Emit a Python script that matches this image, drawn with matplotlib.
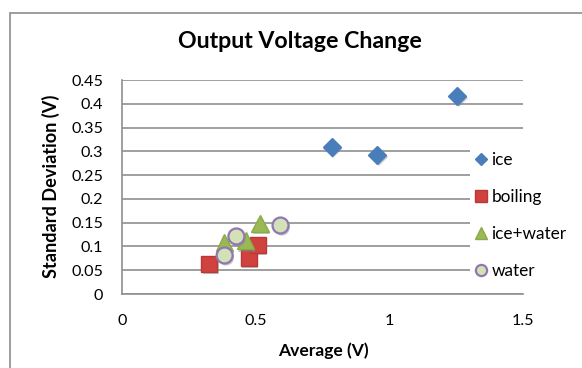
import matplotlib
matplotlib.use('Agg')
import matplotlib.pyplot as plt
import matplotlib.patheffects as pe
from matplotlib.patches import Rectangle

plt.rcParams['font.family'] = ['Lato', 'DejaVu Sans']

# average (V) and standard deviation (V) for each condition
ice_avg = [0.784, 0.955, 1.254]
ice_std = [0.310, 0.293, 0.416]
boiling_avg = [0.326, 0.475, 0.509]
boiling_std = [0.064, 0.075, 0.104]
icewater_avg = [0.383, 0.462, 0.516]
icewater_std = [0.108, 0.112, 0.148]
water_avg = [0.384, 0.428, 0.593]
water_std = [0.081, 0.121, 0.144]

xticks = [0, 0.5, 1, 1.5]
xtick_labels = ['0', '0.5', '1', '1.5']
yticks = [0, 0.05, 0.1, 0.15, 0.2, 0.25, 0.3, 0.35, 0.4, 0.45]
ytick_labels = ['0', '0.05', '0.1', '0.15', '0.2', '0.25', '0.3', '0.35', '0.4', '0.45']

W, H = 582, 368
fig = plt.figure(figsize=(W / 100, H / 100), dpi=100)
renderer = fig.canvas.get_renderer()


def px(p):
    # pixels -> points at 100 dpi
    return p * 72 / 100


def fit_width(txt, width, vertical=False):
    # scale a text's font size so that it spans the given number of pixels
    bb = txt.get_window_extent(renderer)
    cur = bb.height if vertical else bb.width
    txt.set_fontsize(txt.get_fontsize() * width / cur)
    return txt.get_fontsize()


# chart area border
fig.patches.append(Rectangle((10 / W, -0.05), 1, 1.05 - 13 / H, transform=fig.transFigure,
                             fill=False, edgecolor='#8c8c8c', lw=1.2))

ax = fig.add_axes([122 / W, 1 - 294 / H, (523 - 122) / W, (294 - 80) / H])

shadow = [pe.SimplePatchShadow(offset=(1, -1.5), shadow_rgbFace='#888888', alpha=0.45), pe.Normal()]

ax.plot(ice_avg, ice_std, 'D', ms=9.2, color='#4a7ebb', mec='#4a7ebb', label='ice',
        path_effects=shadow, zorder=3)
ax.plot(boiling_avg, boiling_std, 's', ms=11.5, color='#d0423e', mec='#b83a36', label='boiling',
        path_effects=shadow, zorder=3)
ax.plot(icewater_avg, icewater_std, '^', ms=12.5, color='#98b954', mec='#8aab48', label='ice+water',
        path_effects=shadow, zorder=3)
ax.plot(water_avg, water_std, 'o', ms=11.5, color='#d3e2b6', mec='#9276b4', mew=1.6, label='water',
        path_effects=shadow, zorder=3)

ax.set_xlim(0, 1.5)
ax.set_ylim(0, 0.45)
ax.set_xticks(xticks)
ax.set_xticklabels(xtick_labels)
ax.set_yticks(yticks)
ax.set_yticklabels(ytick_labels)
ax.grid(axis='y', color='#8f8f8f', lw=1.2)
ax.set_axisbelow(True)
for s in ['top', 'right']:
    ax.spines[s].set_visible(False)
for s in ['left', 'bottom']:
    ax.spines[s].set_color('#8f8f8f')
    ax.spines[s].set_linewidth(1.2)

# tick label size from the widest label
probe = fig.text(0, 0, '0.45', fontsize=11)
tick_size = fit_width(probe, 32)
probe.remove()
ax.tick_params(length=0, labelsize=tick_size, colors='black')
ax.tick_params(axis='y', pad=px(19))
ax.tick_params(axis='x', pad=px(20))

xl = ax.set_xlabel('Average (V)', fontsize=12, fontweight='bold')
fit_width(xl, 90)
ax.xaxis.set_label_coords(323 / W, 1 - 351 / H, transform=fig.transFigure)
xl.set_va('center')

yl = ax.set_ylabel('Standard Deviation (V)', fontsize=12, fontweight='bold')
fit_width(yl, 182, vertical=True)
ax.yaxis.set_label_coords(51 / W, 1 - 186 / H, transform=fig.transFigure)
yl.set_va('center')

title = fig.text(300 / W, 1 - 42 / H, 'Output Voltage Change', fontsize=15, fontweight='bold',
                 ha='center', va='center')
fit_width(title, 245)

probe = fig.text(0, 0, 'ice+water', fontsize=11)
leg_size = fit_width(probe, 75)
probe.remove()
leg_px = leg_size * 100 / 72

leg = ax.legend(loc='upper left', bbox_to_anchor=(470 / W, 1 - 147 / H),
                bbox_transform=fig.transFigure, frameon=True, fancybox=False,
                facecolor='white', edgecolor='none', framealpha=1, fontsize=leg_size,
                handlelength=12 / leg_px, handletextpad=4.5 / leg_px, borderpad=5 / leg_px,
                labelspacing=21 / leg_px, borderaxespad=0, markerscale=0.7)
for h in leg.legend_handles:
    h.set_path_effects([])

fig.savefig('out.png', dpi=100)
